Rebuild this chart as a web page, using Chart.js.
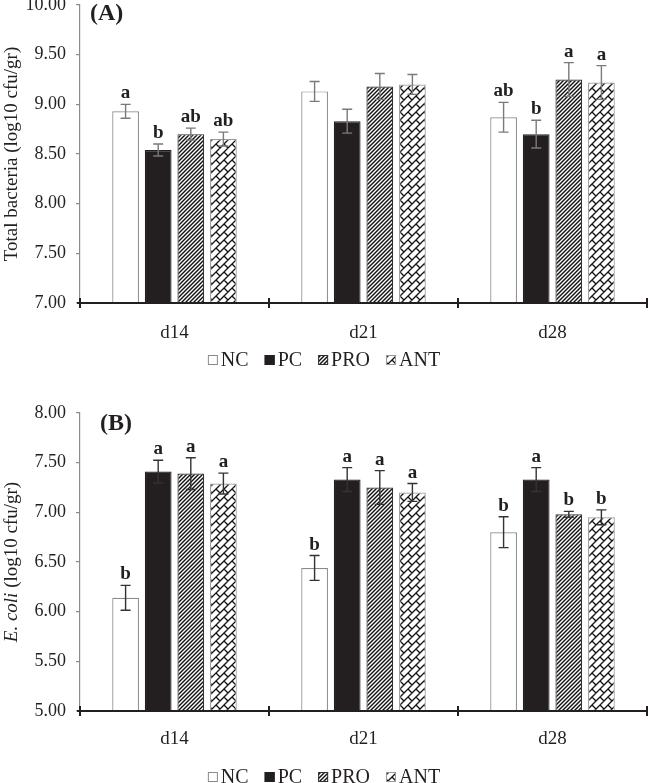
<!DOCTYPE html>
<html>
<head>
<meta charset="utf-8">
<script src="https://cdn.jsdelivr.net/npm/chart.js@4.4.1/dist/chart.umd.min.js"></script>
<style>
  body { margin: 0; background: #fff; }
  .panel { position: absolute; left: 0; width: 648px; }
</style>
</head>
<body>
<div class="panel" style="top:0"><canvas id="chartA" width="648" height="385"></canvas></div>
<div class="panel" style="top:385px"><canvas id="chartB" width="648" height="398"></canvas></div>
<script>
const days = ['d14', 'd21', 'd28'];
const groups = ['NC', 'PC', 'PRO', 'ANT'];

// (A) total bacteria, log10 cfu/gr
const totNC = [8.93, 9.13, 8.87];
const totPC = [8.54, 8.83, 8.70];
const totPRO = [8.70, 9.18, 9.25];
const totANT = [8.65, 9.20, 9.22];
const totNCErr = [0.07, 0.10, 0.15];
const totPCErr = [0.06, 0.12, 0.14];
const totPROErr = [0.06, 0.13, 0.17];
const totANTErr = [0.07, 0.10, 0.17];
const totNCSig = ['a', '', 'ab'];
const totPCSig = ['b', '', 'b'];
const totPROSig = ['ab', '', 'a'];
const totANTSig = ['ab', '', 'a'];
const totTicks = [7, 7.5, 8, 8.5, 9, 9.5, 10];

// (B) E. coli, log10 cfu/gr
const ecoNC = [6.14, 6.44, 6.80];
const ecoPC = [7.41, 7.33, 7.33];
const ecoPRO = [7.39, 7.25, 6.98];
const ecoANT = [7.29, 7.20, 6.95];
const ecoNCErr = [0.125, 0.125, 0.155];
const ecoPCErr = [0.115, 0.12, 0.12];
const ecoPROErr = [0.16, 0.17, 0.03];
const ecoANTErr = [0.105, 0.09, 0.075];
const ecoNCSig = ['b', 'b', 'b'];
const ecoPCSig = ['a', 'a', 'a'];
const ecoPROSig = ['a', 'a', 'b'];
const ecoANTSig = ['a', 'a', 'b'];
const ecoTicks = [5, 5.5, 6, 6.5, 7, 7.5, 8];

const FONT = '"Liberation Serif", "Times New Roman", serif';
const INK = '#231f20';

function hatchPattern() {
  const s = 4;
  const c = document.createElement('canvas');
  c.width = c.height = s;
  const g = c.getContext('2d');
  g.fillStyle = '#fff';
  g.fillRect(0, 0, s, s);
  g.strokeStyle = '#111';
  g.lineWidth = 1.4;
  for (const k of [-s, 0, s]) {
    g.beginPath();
    g.moveTo(k - 1, s + 1);
    g.lineTo(k + s + 1, -1);
    g.stroke();
  }
  return g.createPattern(c, 'repeat');
}

// diagonal brick (zigzag) fill for ANT
function brickPattern() {
  const s = 16;
  const c = document.createElement('canvas');
  c.width = c.height = s;
  const g = c.getContext('2d');
  g.fillStyle = '#fff';
  g.fillRect(0, 0, s, s);
  g.strokeStyle = '#111';
  g.lineWidth = 1.3;
  g.beginPath();
  for (let k = 0; k <= 4; k++) {
    const cc = k * s / 2;
    g.moveTo(-2, cc + 2);
    g.lineTo(cc + 2, -2);
  }
  const q = s / 4, h = s / 2;
  [[0, 0], [h, h], [h, 0], [0, h]].forEach(([x0, y0]) => {
    g.moveTo(x0, y0);
    g.lineTo(x0 + q, y0 + q);
  });
  g.stroke();
  return g.createPattern(c, 'repeat');
}

const fills = ['#ffffff', INK, hatchPattern(), brickPattern()];
const edges = ['#8a8a8a', INK, '#333333', '#9a9a9a'];

const barExtras = {
  id: 'barExtras',
  afterDatasetsDraw(chart, args, o) {
    const ctx = chart.ctx, y = chart.scales.y;
    chart.data.datasets.forEach((ds, i) => {
      chart.getDatasetMeta(i).data.forEach((bar, j) => {
        const top = y.getPixelForValue(ds.data[j] + ds.err[j]);
        const bot = y.getPixelForValue(ds.data[j] - ds.err[j]);
        ctx.save();
        ctx.strokeStyle = o.color;
        ctx.lineWidth = 1.4;
        ctx.beginPath();
        ctx.moveTo(bar.x, top); ctx.lineTo(bar.x, bot);
        ctx.moveTo(bar.x - 5, top); ctx.lineTo(bar.x + 5, top);
        ctx.moveTo(bar.x - 5, bot); ctx.lineTo(bar.x + 5, bot);
        ctx.stroke();
        if (ds.sig[j]) {
          ctx.fillStyle = INK;
          ctx.font = 'bold 19px ' + FONT;
          ctx.textAlign = 'center';
          ctx.textBaseline = 'alphabetic';
          ctx.fillText(ds.sig[j], bar.x, top - 6);
        }
        ctx.restore();
      });
    });
  }
};

const frame = {
  id: 'frame',
  afterDraw(chart, args, o) {
    const ctx = chart.ctx, a = chart.chartArea, x = chart.scales.x;
    ctx.save();
    // x axis with category boundary ticks
    ctx.strokeStyle = INK;
    ctx.lineWidth = 2;
    ctx.beginPath();
    ctx.moveTo(a.left - 3, a.bottom);
    ctx.lineTo(a.right, a.bottom);
    for (let i = 0; i <= days.length; i++) {
      const px = Math.round(x.getPixelForValue(i - 0.5));
      ctx.moveTo(px, a.bottom - 5);
      ctx.lineTo(px, a.bottom + 5);
    }
    ctx.stroke();

    ctx.fillStyle = INK;
    ctx.font = 'bold 24px ' + FONT;
    ctx.textAlign = 'left';
    ctx.textBaseline = 'middle';
    ctx.fillText(o.tag, o.tagX, a.top + o.tagDy);

    // legend
    ctx.font = '20px ' + FONT;
    const box = 10, gapIn = 3, gapOut = 16;
    const items = chart.data.datasets;
    let total = 0;
    items.forEach((d, i) => { total += box + gapIn + ctx.measureText(d.label).width + (i ? gapOut : 0); });
    let lx = chart.width / 2 - total / 2;
    items.forEach(d => {
      ctx.fillStyle = d.backgroundColor;
      ctx.fillRect(lx, o.legendY - box / 2, box, box);
      ctx.strokeStyle = d.borderColor;
      ctx.lineWidth = 1;
      ctx.strokeRect(lx + 0.5, o.legendY - box / 2 + 0.5, box - 1, box - 1);
      lx += box + gapIn;
      ctx.fillStyle = INK;
      ctx.fillText(d.label, lx, o.legendY + 1);
      lx += ctx.measureText(d.label).width + gapOut;
    });

    // y title, may mix italic and roman parts
    ctx.translate(12, (a.top + a.bottom) / 2);
    ctx.rotate(-Math.PI / 2);
    const fontOf = p => (p.italic ? 'italic ' : '') + '19px ' + FONT;
    let w = 0;
    o.title.forEach(p => { ctx.font = fontOf(p); w += ctx.measureText(p.text).width; });
    let tx = -w / 2;
    ctx.fillStyle = INK;
    o.title.forEach(p => {
      ctx.font = fontOf(p);
      ctx.fillText(p.text, tx, 0);
      tx += ctx.measureText(p.text).width;
    });
    ctx.restore();
  }
};

function makeChart(id, means, errs, sigs, ticks, o) {
  return new Chart(document.getElementById(id), {
    type: 'bar',
    data: {
      labels: days,
      datasets: groups.map((g, i) => ({
        label: g,
        data: means[i],
        err: errs[i],
        sig: sigs[i],
        backgroundColor: fills[i],
        borderColor: edges[i],
        borderWidth: 1.2,
        barPercentage: 0.82,
        categoryPercentage: 0.69
      }))
    },
    options: {
      responsive: false,
      animation: false,
      layout: { padding: { top: o.top, right: 1, bottom: 0, left: 0 } },
      plugins: {
        legend: { display: false },
        tooltip: { enabled: false },
        barExtras: { color: o.errColor },
        frame: { tag: o.tag, tagX: o.tagX, tagDy: o.tagDy, legendY: o.legendY, title: o.title }
      },
      scales: {
        x: {
          grid: { display: false, drawTicks: false },
          border: { display: false },
          ticks: { padding: o.labelPad, color: INK, font: { family: FONT, size: 19 } },
          afterFit: s => { s.height = o.xHeight; s.paddingLeft = 0; s.paddingRight = 0; }
        },
        y: {
          min: ticks[0],
          max: ticks[ticks.length - 1],
          afterBuildTicks: s => { s.ticks = ticks.map(v => ({ value: v })); },
          grid: { drawOnChartArea: false, color: '#8c8c8c', tickLength: 4, lineWidth: 1.2 },
          border: { color: '#8c8c8c', width: 1.2 },
          ticks: { padding: 10, color: INK, font: { family: FONT, size: 18 }, callback: v => v.toFixed(2) },
          afterFit: s => { s.width = 80; s.paddingTop = 0; s.paddingBottom = 0; }
        }
      }
    },
    plugins: [barExtras, frame]
  });
}

makeChart('chartA',
  [totNC, totPC, totPRO, totANT],
  [totNCErr, totPCErr, totPROErr, totANTErr],
  [totNCSig, totPCSig, totPROSig, totANTSig],
  totTicks,
  { top: 5, xHeight: 82, labelPad: 19, legendY: 360, errColor: '#7a7a7a',
    tag: '(A)', tagX: 90, tagDy: 9,
    title: [{ text: 'Total bacteria (log10 cfu/gr)' }] });

makeChart('chartB',
  [ecoNC, ecoPC, ecoPRO, ecoANT],
  [ecoNCErr, ecoPCErr, ecoPROErr, ecoANTErr],
  [ecoNCSig, ecoPCSig, ecoPROSig, ecoANTSig],
  ecoTicks,
  { top: 28, xHeight: 72, labelPad: 17, legendY: 392, errColor: '#333333',
    tag: '(B)', tagX: 100, tagDy: 11,
    title: [{ text: 'E. coli', italic: true }, { text: ' (log10 cfu/gr)' }] });
</script>
</body>
</html>
